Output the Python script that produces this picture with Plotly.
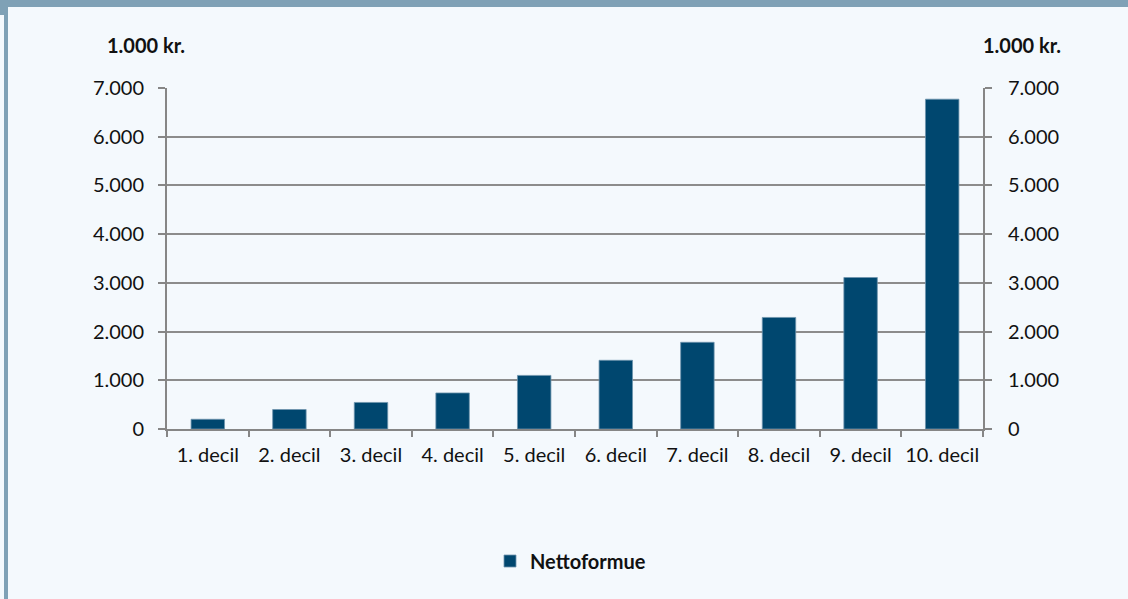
import plotly.graph_objects as go

categories = ["1. decil", "2. decil", "3. decil", "4. decil", "5. decil",
              "6. decil", "7. decil", "8. decil", "9. decil", "10. decil"]
nettoformue = [200, 400, 545, 740, 1100, 1410, 1780, 2290, 3110, 6770]
tick_vals = [0, 1000, 2000, 3000, 4000, 5000, 6000, 7000]
tick_text = ["0", "1.000", "2.000", "3.000", "4.000", "5.000", "6.000", "7.000"]

W, H = 1128, 599
ML, MR, MT, MB = 167, 145, 88, 170
PW, PH = W - ML - MR, H - MT - MB

def px_x(p):
    return (p - ML) / PW

def px_y(p):
    return 1 - (p - MT) / PH

BAR = "#00476f"
AX = "#868686"
BG = "#f4f9fd"
STRIPE = "#7fa1b6"
FONT = "Lato"
FS = 20

fig = go.Figure()
fig.add_trace(go.Bar(
    x=categories, y=nettoformue, name="Nettoformue",
    marker=dict(color=BAR, line=dict(color="#6f94ad", width=0.8)),
    width=0.41,
))
fig.add_trace(go.Scatter(
    x=categories, y=nettoformue, yaxis="y2", mode="markers",
    marker=dict(opacity=0, size=1), showlegend=False, hoverinfo="skip",
))

axis_common = dict(
    range=[0, 7000], tickvals=tick_vals, ticktext=tick_text,
    showline=True, linecolor=AX, linewidth=2,
    ticks="outside", ticklen=7, tickwidth=2, tickcolor=AX,
    tickfont=dict(family=FONT, size=FS, color="#111111"),
    zeroline=False, fixedrange=True,
)

fig.update_layout(
    width=W, height=H,
    margin=dict(l=ML, r=MR, t=MT, b=MB, pad=0),
    paper_bgcolor=BG, plot_bgcolor=BG,
    bargap=0.59,
    xaxis=dict(
        type="category", range=[-0.5, len(categories) - 0.5],
        showline=True, linecolor=AX, linewidth=2,
        ticks="outside", tickson="boundaries", ticklen=6, tickwidth=2,
        tickcolor=AX, showgrid=False, tickangle=0, fixedrange=True,
        tickfont=dict(family=FONT, size=FS, color="#111111"),
        ticklabelstandoff=7,
    ),
    yaxis=dict(**axis_common, showgrid=True, gridcolor="#8c8c8c", gridwidth=1.6,
               ticklabelstandoff=10),
    yaxis2=dict(**axis_common, overlaying="y", side="right", showgrid=False,
                ticklabelstandoff=12),
    showlegend=True,
    legend=dict(
        orientation="h", x=px_x(490), y=px_y(561), xanchor="left", yanchor="middle",
        font=dict(family=FONT, size=FS, color="#111111", weight="bold"),
        bgcolor="rgba(0,0,0,0)", itemwidth=30,
    ),
    annotations=[
        dict(text="<b>1.000 kr.</b>", x=px_x(146), y=px_y(45), xref="paper", yref="paper",
             xanchor="center", yanchor="middle",
             showarrow=False, font=dict(family=FONT, size=FS, color="#111111")),
        dict(text="<b>1.000 kr.</b>", x=px_x(1022), y=px_y(45), xref="paper", yref="paper",
             xanchor="center", yanchor="middle",
             showarrow=False, font=dict(family=FONT, size=FS, color="#111111")),
    ],
    shapes=[
        dict(type="rect", xref="paper", yref="paper", x0=px_x(-2), x1=px_x(W + 2),
             y0=px_y(7), y1=px_y(-2), fillcolor=STRIPE, line=dict(width=0), layer="above"),
        dict(type="rect", xref="paper", yref="paper", x0=px_x(-2), x1=px_x(7),
             y0=px_y(15), y1=px_y(6), fillcolor=STRIPE, line=dict(width=0), layer="above"),
        dict(type="rect", xref="paper", yref="paper", x0=px_x(4), x1=px_x(8),
             y0=px_y(H + 2), y1=px_y(6), fillcolor=STRIPE, line=dict(width=0), layer="above"),
    ],
)

fig.write_html(
    "out.html",
    config={"displayModeBar": False},
    post_script="document.body.style.margin='0px';document.body.style.overflow='hidden';",
)
